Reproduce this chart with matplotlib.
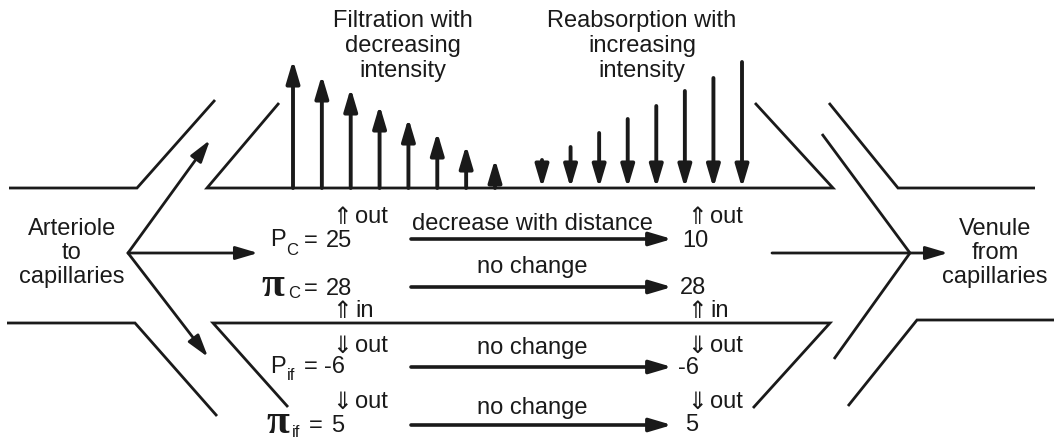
import matplotlib
matplotlib.use("Agg")
import matplotlib.pyplot as plt
import numpy as np

# arrow lengths (px) = intensity of filtration / reabsorption along the capillary
filtration = [128, 113, 100, 83, 70, 56, 43, 29]
reabsorption = [28, 41, 55, 69, 82, 97, 110, 126]

# pressures at arterial end and venous end
start_values = ["25", "28", "-6", "5"]
end_values = ["10", "28", "-6", "5"]
symbols = ["P", "π", "P", "π"]
subscripts = ["C", "C", "if", "if"]
changes = ["decrease with distance", "no change", "no change", "no change"]
arteriole_dirs = ["out", "in", "out", "out"]
venous_dirs = ["out", "in", "out", "out"]

ink = "#1a1a1a"
plt.rcParams["font.family"] = ["Liberation Sans", "DejaVu Sans"]

fig = plt.figure(figsize=(10.59, 4.41), dpi=100)
ax = fig.add_axes([0, 0, 1, 1])
ax.set_xlim(0, 1059)
ax.set_ylim(441, 0)
ax.axis("off")

fs = 17


def wall(xs, ys):
    ax.plot(xs, ys, color=ink, lw=2.0, solid_joinstyle="miter", solid_capstyle="butt")


def arrow(x0, y0, x1, y1, lw=2.2):
    ax.annotate("", xy=(x1, y1), xytext=(x0, y0),
                arrowprops=dict(arrowstyle="-|>,head_length=1.35,head_width=0.4",
                                mutation_scale=10, lw=lw, color=ink,
                                shrinkA=0, shrinkB=0))


def lines(x, y0, txt, step=24):
    for k, s in enumerate(txt.split("\n")):
        ax.text(x, y0 + k * step, s, ha="center", va="baseline", fontsize=fs, color=ink)


# vessel walls
wall([9, 137, 215], [188, 188, 100])
wall([279, 207, 833, 755], [103, 188, 188, 103])
wall([7, 135, 217], [323, 323, 416])
wall([288, 213, 830, 753], [407, 323, 323, 408])
wall([822, 910, 834], [134, 253, 359])
wall([829, 898, 1035], [103, 188, 188])
wall([848, 917, 1054], [406, 320, 320])

# arteriole branching arrows and venule arrow
arrow(128, 253, 210, 140, lw=2.0)
arrow(128, 253, 258, 253, lw=2.0)
arrow(128, 253, 208, 357, lw=2.0)
arrow(772, 253, 948, 253, lw=2.0)

lines(72, 235, "Arteriole\nto\ncapillaries")
lines(995, 235, "Venule\nfrom\ncapillaries")

# filtration / reabsorption arrows
wall_y = 188
for x, h in zip(np.linspace(293, 495, len(filtration)), filtration):
    arrow(x, wall_y, x, wall_y - h, lw=2.8)
for x, h in zip(np.linspace(542, 742, len(reabsorption)), reabsorption):
    arrow(x, wall_y - h, x, wall_y, lw=2.8)

lines(403, 27, "Filtration with\ndecreasing\nintensity", step=25)
lines(642, 27, "Reabsorption with\nincreasing\nintensity", step=25)

# pressure rows
arrow_y = [239, 287, 367, 425]
base_y = [247, 295, 373, 432]
sym_x = [270, 261, 270, 266]
sym_base = [246, 296, 373, 433]
sub_x = [286, 288, 287, 292]
sub_base = [255, 298, 380, 437]
eq_x = [304, 304, 304, 309]
val_x = [326, 326, 324, 331]
end_x = [682, 680, 678, 685]
end_base = [247, 294, 374, 431]
change_base = [230, 273, 354, 414]
dir_base = [223, 317, 352, 408]
for i in range(4):
    if symbols[i] == "π":
        ax.text(sym_x[i], sym_base[i], "π", fontsize=fs + 13, fontweight="bold",
                family=["Liberation Serif", "DejaVu Serif"],
                ha="left", va="baseline", color=ink)
    else:
        ax.text(sym_x[i], sym_base[i], "P", fontsize=fs, ha="left",
                va="baseline", color=ink)
    ax.text(sub_x[i], sub_base[i], subscripts[i], fontsize=12, ha="left",
            va="baseline", color=ink)
    ax.text(eq_x[i], base_y[i], "=", fontsize=fs, ha="left", va="baseline", color=ink)
    ax.text(val_x[i], base_y[i], start_values[i], fontsize=fs, ha="left",
            va="baseline", color=ink)
    ax.text(end_x[i], end_base[i], end_values[i], fontsize=fs, ha="left",
            va="baseline", color=ink)

    arrow(411, arrow_y[i], 672, arrow_y[i], lw=2.6)
    ax.text(532, change_base[i], changes[i], fontsize=fs, ha="center",
            va="baseline", color=ink)

    sym = "⇑" if i < 2 else "⇓"
    for ax_x, word in ((332, arteriole_dirs[i]), (687, venous_dirs[i])):
        ax.text(ax_x, dir_base[i] + 1, sym, fontsize=fs, family="DejaVu Sans",
                ha="left", va="baseline", color=ink)
        ax.text(ax_x + 23, dir_base[i], word, fontsize=fs, ha="left",
                va="baseline", color=ink)

fig.savefig("out.png", dpi=100, facecolor="white")
